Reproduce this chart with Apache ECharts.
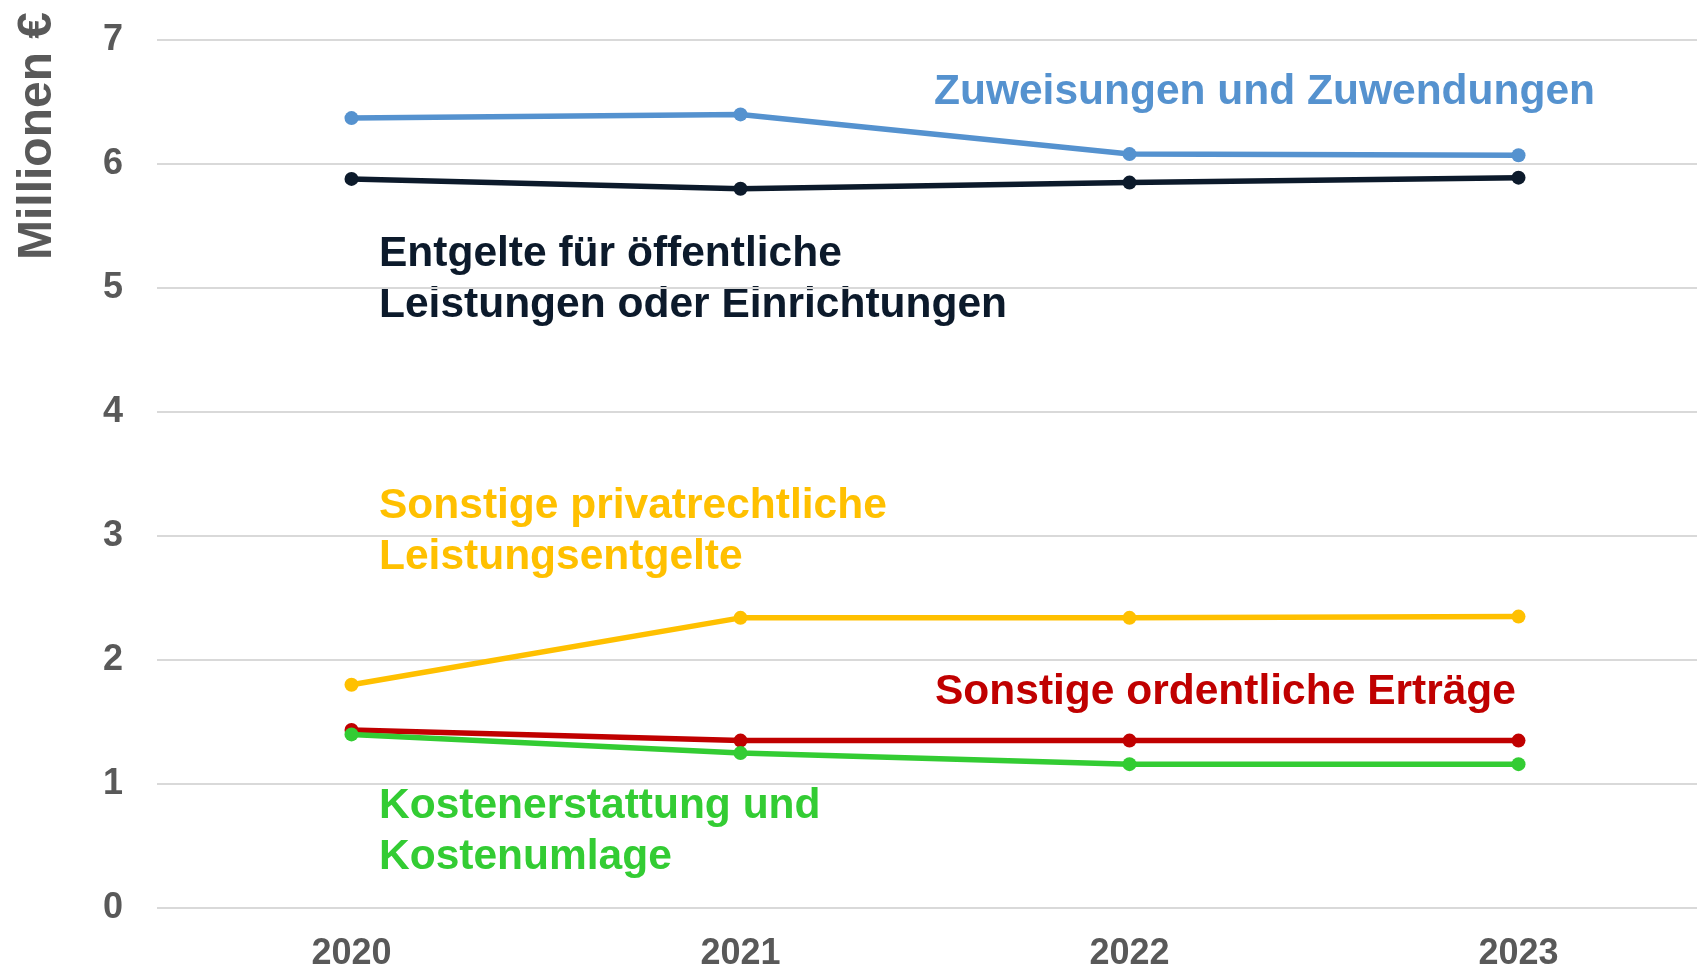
<!DOCTYPE html>
<html>
<head>
<meta charset="utf-8">
<title>Erträge</title>
<script src="https://cdn.jsdelivr.net/npm/echarts@6/dist/echarts.min.js"></script>
<style>
  html, body { margin: 0; padding: 0; background: #fff; }
  #chart { width: 1697px; height: 969px; }
</style>
</head>
<body>
<div id="chart"></div>
<script>
// Daten (Millionen €)
var jahre = ['2020', '2021', '2022', '2023'];
var zuweisungen = [6.37, 6.40, 6.08, 6.07];
var entgelte = [5.88, 5.80, 5.85, 5.89];
var privatrechtlich = [1.80, 2.34, 2.34, 2.35];
var ordentlich = [1.435, 1.35, 1.35, 1.35];
var kostenerstattung = [1.40, 1.25, 1.16, 1.16];

var fontFam = '"Liberation Sans", Arial, sans-serif';

function linie(name, data, farbe) {
    return {
        name: name,
        type: 'line',
        data: data,
        symbol: 'circle',
        symbolSize: 14,
        lineStyle: { color: farbe, width: 5.5 },
        itemStyle: { color: farbe },
        animation: false
    };
}

function beschriftung(text, x, y, farbe) {
    return {
        type: 'text',
        x: x,
        y: y,
        style: {
            text: text,
            fill: farbe,
            font: 'bold 42.5px ' + fontFam,
            lineHeight: 51,
            textAlign: 'left',
            textVerticalAlign: 'top'
        }
    };
}

var chart = echarts.init(document.getElementById('chart'));

var option = {
    backgroundColor: '#fff',
    animation: false,
    // Raster ragt rechts etwas über den Rand hinaus
    grid: { left: 157, width: 1556, top: 40, bottom: 61, outerBoundsMode: 'none' },
    xAxis: {
        type: 'category',
        data: jahre,
        boundaryGap: true,
        axisLine: { show: false },
        axisTick: { show: false },
        axisLabel: {
            color: '#595959',
            fontSize: 36,
            fontWeight: 'bold',
            fontFamily: fontFam,
            margin: 28
        }
    },
    yAxis: {
        type: 'value',
        min: 0,
        max: 7,
        interval: 1,
        axisLine: { show: false },
        axisTick: { show: false },
        splitLine: { lineStyle: { color: '#d9d9d9', width: 2 } },
        axisLabel: {
            color: '#595959',
            fontSize: 36,
            fontWeight: 'bold',
            fontFamily: fontFam,
            margin: 34
        }
    },
    series: [
        linie('Zuweisungen und Zuwendungen', zuweisungen, '#5592cf'),
        linie('Entgelte für öffentliche Leistungen oder Einrichtungen', entgelte, '#0c1a2b'),
        linie('Sonstige privatrechtliche Leistungsentgelte', privatrechtlich, '#ffc000'),
        linie('Sonstige ordentliche Erträge', ordentlich, '#c00000'),
        linie('Kostenerstattung und Kostenumlage', kostenerstattung, '#33cc33')
    ],
    graphic: [
        {
            type: 'text',
            x: 38,
            y: 136,
            rotation: Math.PI / 2,
            style: {
                text: 'Millionen €',
                fill: '#595959',
                font: 'bold 48px ' + fontFam,
                textAlign: 'center',
                textVerticalAlign: 'middle'
            }
        },
        beschriftung('Zuweisungen und Zuwendungen', 934, 67, '#5592cf'),
        beschriftung('Entgelte für öffentliche\nLeistungen oder Einrichtungen', 379, 229, '#0c1a2b'),
        beschriftung('Sonstige privatrechtliche\nLeistungsentgelte', 379, 481, '#ffc000'),
        beschriftung('Sonstige ordentliche Erträge', 935, 667, '#c00000'),
        beschriftung('Kostenerstattung und\nKostenumlage', 379, 781, '#33cc33')
    ]
};

chart.setOption(option);
</script>
</body>
</html>
